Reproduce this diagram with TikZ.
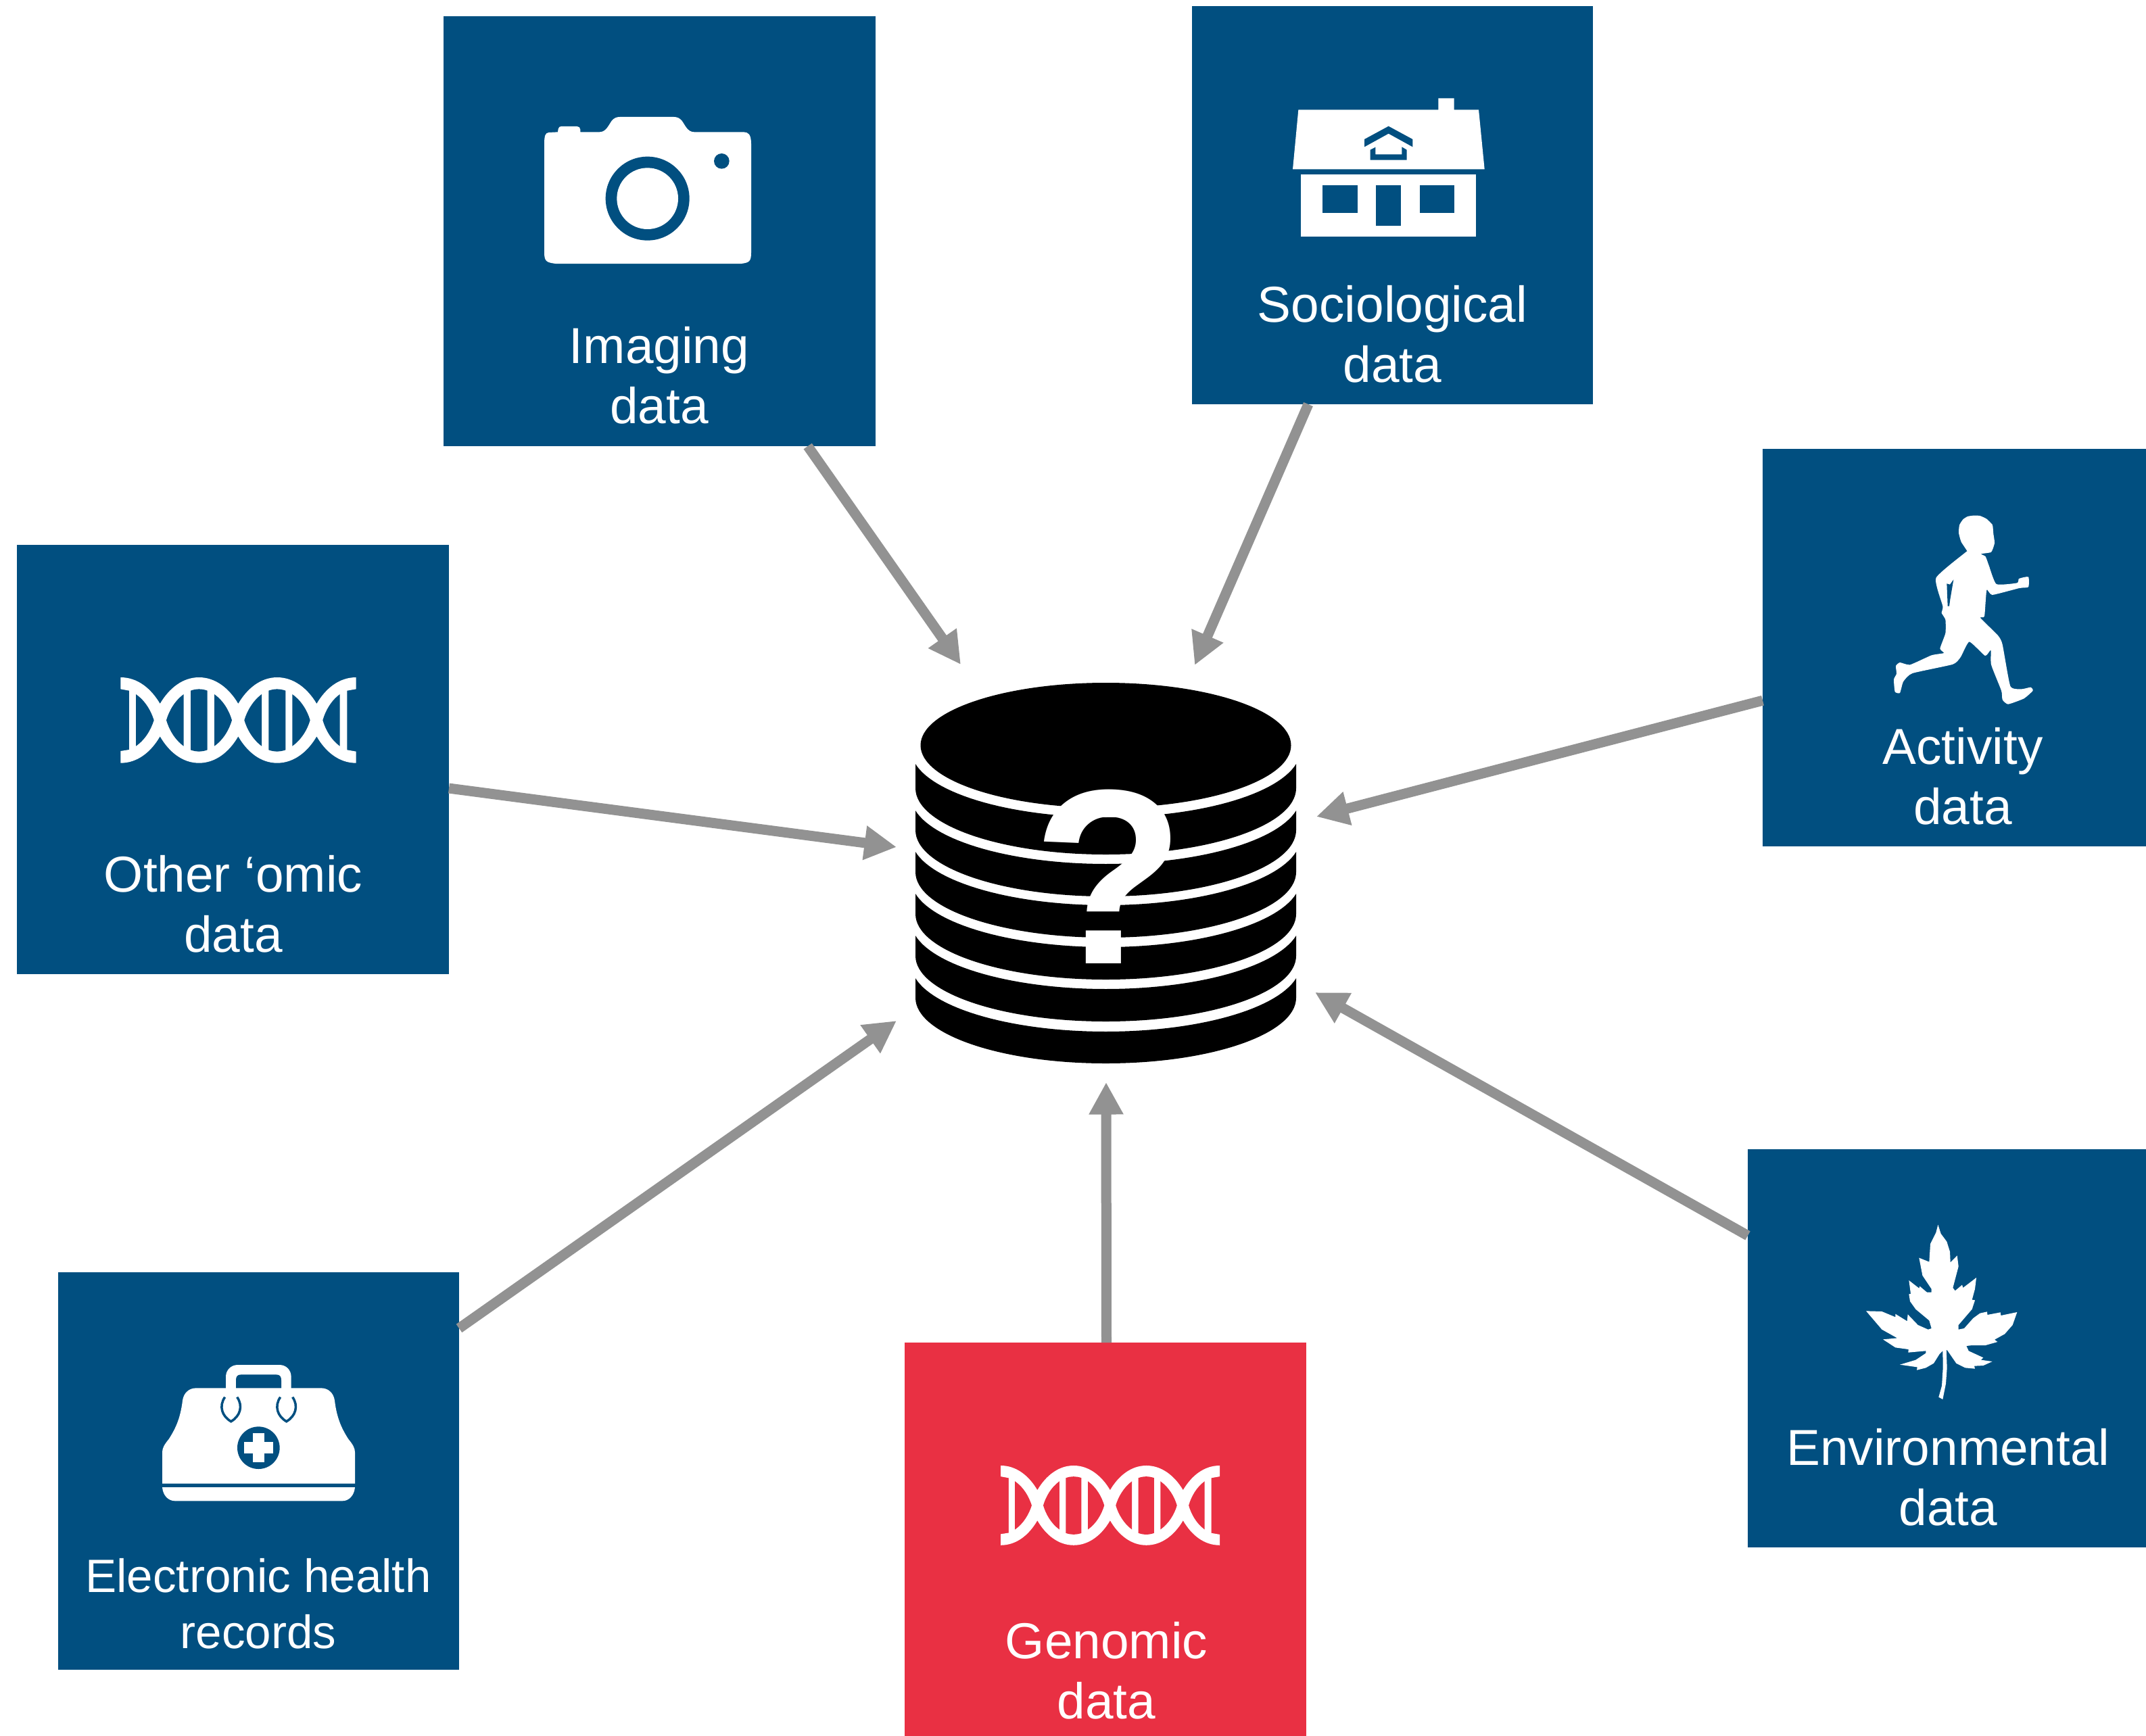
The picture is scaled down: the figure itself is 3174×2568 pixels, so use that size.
\documentclass[tikz,border=0pt]{standalone}
\usepackage{fontspec}
\setmainfont{Liberation Sans}
\usetikzlibrary{arrows.meta,calc}
\definecolor{bluebg}{HTML}{014F80}
\definecolor{redbg}{HTML}{E93043}
\definecolor{arrowgray}{HTML}{929292}
\tikzset{
  databox/.style={inner sep=0pt,outer sep=0pt,rectangle},
  lbl/.style={text=white,align=center,inner sep=0pt,outer sep=0pt,font=\fontsize{17.95pt}{21.4pt}\selectfont},
  feed/.style={draw=arrowgray,line width=3.6pt,-{Triangle[length=11.4pt,width=11.5pt]}},
  icon/.style={x=0.08pt,y=-0.08pt},
}
\newcommand{\pxbox}[6]{%
  \node[databox,fill=#6,minimum width={(#4-#2)*0.24pt},minimum height={(#5-#3)*0.24pt}] (#1) at ({(#2+#4)/2},{(#3+#5)/2}) {};}
% side bottom, top-curve centre, bottom-curve centre
\newcommand{\dbband}[3]{%
  \pgfmathsetmacro\yda{#1+0.5523*(#3-#1)}
  \fill[black] (1354,#1) .. controls (1354,\yda) and (1480,#3) .. (1635.5,#3)
     .. controls (1791,#3) and (1917,\yda) .. (1917,#1)
     -- plot[domain=12.2:167.8,samples=61] ({1635.5+288*cos(\x)},{#2-100+100*sin(\x)}) -- cycle;}
\newcommand{\dnaicon}[4]{%
  \begin{scope}[shift={(#1,#2)},icon,scale=#3]
  \fill[white] (55,66) .. controls (130,66) and (190,115) .. (230,183)
    .. controls (270,115) and (330,66) .. (403,66) .. controls (476,66) and (537,115) .. (577,183)
    .. controls (617,115) and (677,66) .. (750,66) .. controls (823,66) and (885,115) .. (925,183)
    .. controls (965,115) and (1025,66) .. (1100,66) -- (1100,118) -- (1060,125) -- (1060,388) -- (1100,395) -- (1100,446)
    .. controls (1025,446) and (965,397) .. (925,328) .. controls (885,397) and (823,446) .. (750,446)
    .. controls (677,446) and (617,397) .. (577,328) .. controls (537,397) and (476,446) .. (403,446)
    .. controls (330,446) and (270,397) .. (230,328) .. controls (190,397) and (130,446) .. (55,446)
    -- (55,393) -- (93,387) -- (93,125) -- (55,118) -- cycle;
  \fill[#4] (123,141) .. controls (165,170) and (190,215) .. (203,256) .. controls (190,297) and (165,342) .. (123,371) -- cycle;
  \fill[#4] (335,141) .. controls (295,170) and (270,215) .. (258,256) .. controls (270,297) and (295,342) .. (335,371) -- cycle;
  \fill[#4] (366,125) .. controls (390,116) and (416,116) .. (440,125) -- (440,388) .. controls (416,397) and (390,397) .. (366,388) -- cycle;
  \fill[#4] (471,141) .. controls (512,170) and (537,215) .. (549,256) .. controls (537,297) and (512,342) .. (471,371) -- cycle;
  \fill[#4] (681,141) .. controls (642,170) and (616,215) .. (604,256) .. controls (616,297) and (642,342) .. (681,371) -- cycle;
  \fill[#4] (712,125) .. controls (737,116) and (762,116) .. (787,125) -- (787,388) .. controls (762,397) and (737,397) .. (712,388) -- cycle;
  \fill[#4] (817,141) .. controls (858,170) and (884,215) .. (896,256) .. controls (884,297) and (858,342) .. (817,371) -- cycle;
  \fill[#4] (1028,141) .. controls (988,170) and (964,215) .. (952,256) .. controls (964,297) and (988,342) .. (1028,371) -- cycle;
  \end{scope}}
\begin{document}
\begin{tikzpicture}[x=0.24pt,y=-0.24pt]
\useasboundingbox (0,0) rectangle (3174,2568);
% boxes
\pxbox{imaging}{656}{24}{1295}{660}{bluebg}
\pxbox{socio}{1763}{9}{2356}{598}{bluebg}
\pxbox{activity}{2607}{664}{3174}{1252}{bluebg}
\pxbox{omic}{25}{806}{664}{1441}{bluebg}
\pxbox{ehr}{86}{1882}{679}{2470}{bluebg}
\pxbox{genomic}{1338}{1986}{1932}{2568}{redbg}
\pxbox{environ}{2585}{1700}{3174}{2289}{bluebg}
% labels
\node[lbl] (limaging) at (975,555) {Imaging\\data};
\node[lbl] (lsocio) at (2059.5,494) {Sociological\\data};
\node[lbl] (lactivity) at (2903,1148) {Activity\\data};
\node[lbl] (lomic) at (345,1337) {Other ‘omic\\data};
\node[lbl,font=\fontsize{16.6pt}{19.9pt}\selectfont] (lehr) at (382,2372) {Electronic health\\records};
\node[lbl] (lgenomic) at (1636.5,2471) {Genomic\\data};
\node[lbl] (lenviron) at (2881.5,2185) {Environmental\\data};
% database
\fill[black] (1635.5,1010) .. controls (1787,1010) and (1909.5,1051.4) .. (1909.5,1102.5)
  .. controls (1909.5,1153.6) and (1787,1195) .. (1635.5,1195)
  .. controls (1484,1195) and (1361.5,1153.6) .. (1361.5,1102.5)
  .. controls (1361.5,1051.4) and (1484,1010) .. (1635.5,1010) -- cycle;
\dbband{1166}{1209}{1264}
\dbband{1228}{1278}{1326}
\dbband{1290}{1339}{1387}
\dbband{1352}{1401}{1449}
\dbband{1414}{1463}{1511}
\dbband{1476}{1526}{1573}
\node[inner sep=0pt,outer sep=0pt,minimum size=135.1pt] (db) at (1635.5,1291.5) {};
\node[text=white,inner sep=0pt,font=\fontsize{88.5pt}{88.5pt}\selectfont\bfseries] (qmark) at (1640,1297) {?};
% connector ends
\coordinate (inA) at (1421,983);
\coordinate (inB) at (1767,984);
\coordinate (inC) at (1947,1208);
\coordinate (inD) at (1945,1468);
\coordinate (inE) at (1636,1601);
\coordinate (inF) at (1326,1510);
\coordinate (inG) at (1326,1253);
\draw[feed] ($(imaging.south west)!0.843!(imaging.south east)$) -- (inA);
\draw[feed] ($(socio.south west)!0.29!(socio.south east)$) -- (inB);
\draw[feed] ($(activity.north west)!0.633!(activity.south west)$) -- (inC);
\draw[feed] ($(environ.north west)!0.217!(environ.south west)$) -- (inD);
\draw[feed] ($(genomic.north west)!0.5025!(genomic.north east)$) -- (inE);
\draw[feed] ($(ehr.north east)!0.141!(ehr.south east)$) -- (inF);
\draw[feed] ($(omic.north east)!0.567!(omic.south east)$) -- (inG);
% DNA icons
\dnaicon{160}{980}{1}{bluebg}
\dnaicon{1463}{2147.5}{0.93}{redbg}
% camera
\begin{scope}[shift={(750,150)},icon]
\fill[white] (165,190) .. controls (165,150) and (170,140) .. (185,138) -- (225,136) -- (227,122) .. controls (229,114) and (234,111) .. (240,111) -- (310,111) .. controls (318,111) and (325,116) .. (325,125) -- (325,136) -- (410,136)
 .. controls (440,136) and (450,105) .. (465,85) .. controls (475,74) and (485,69) .. (500,69) -- (740,69) .. controls (755,69) and (765,74) .. (775,85) .. controls (790,105) and (800,136) .. (830,136) -- (1050,136) .. controls (1070,137) and (1083,145) .. (1083,190)
 -- (1083,670) .. controls (1083,710) and (1075,715) .. (1040,720) -- (215,720) .. controls (175,715) and (165,710) .. (165,670) -- cycle;
\fill[bluebg] (623,431) circle[radius=14.88pt];
\fill[white] (623,431) circle[radius=10.88pt];
\fill[bluebg] (952,265) circle[radius=2.72pt];
\end{scope}
% house
\begin{scope}[shift={(1880,120)},icon]
\fill[white] (121,127) -- (742,127) -- (742,76) -- (812,76) -- (812,127) -- (921,127) -- (947,391) -- (96,391) -- cycle;
\fill[white] (133,415) rectangle (910,690);
\fill[bluebg] (229,461) rectangle (383,584);
\fill[bluebg] (465,461) rectangle (577,643);
\fill[bluebg] (659,461) rectangle (813,584);
\fill[bluebg] (414,258) -- (521,200) -- (628,258) -- (628,292) -- (521,233) -- (414,292) -- cycle;
\fill[bluebg] (440,305) -- (463,293) -- (463,325) -- (580,325) -- (580,292) -- (602,305) -- (602,350) -- (440,350) -- cycle;
\end{scope}
% runner
\begin{scope}[shift={(2760,740)},icon]
\fill[white] plot[smooth cycle,tension=0.3] coordinates {(475,68) (505,69) (535,83) (560,108) (563,125) (565,150) (570,190) (555,230) (510,238) (530,250) (545,290) (578,372) (670,367) (678,348) (720,340) (720,385) (680,390) (560,420) (535,398) (525,515) (507,522) (585,600) (605,640) (640,825) (690,838) (730,830) (740,845) (700,880) (630,905) (605,885) (600,845) (555,730) (553,665) (528,690) (458,628) (420,695) (385,728) (205,768) (165,805) (150,855) (128,850) (123,795) (135,770) (132,735) (150,720) (195,730) (290,688) (345,678) (328,658) (352,590) (352,530) (335,500) (340,470) (310,345) (440,232) (448,225) (422,185) (411,145) (414,110) (430,85) (450,72)};
\fill[bluebg] (358,370) -- (372,374) -- (388,352) -- (373,440) -- (369,470) -- (362,470) -- cycle;
\end{scope}
% leaf
\begin{scope}[shift={(2720,1790)},icon]
\fill[white] (439,65) -- (452,105) -- (478,140) -- (492,185) -- (494,232) -- (524,202) -- (530,250) -- (505,345) -- (515,358) -- (546,332) -- (550,345) -- (609,300) -- (603,350) -- (590,398) -- (603,400) -- (590,440) -- (530,510) -- (530,530) -- (555,525) -- (595,480) -- (625,458) -- (657,451) -- (658,465) -- (716,454) -- (718,468) -- (790,453) -- (770,510) -- (735,550) -- (690,575) -- (703,585) -- (650,600) -- (590,600) -- (565,603) -- (575,625) -- (640,655) -- (630,665) -- (680,672) -- (640,690) -- (600,692) -- (603,704) -- (560,700) -- (520,680) -- (480,622) -- (476,622) -- (479,700) -- (474,770) -- (460,840) -- (442,830) -- (456,780) -- (461,700) -- (460,625) -- (445,640) -- (420,680) -- (385,700) -- (345,710) -- (347,697) -- (270,686) -- (340,665) -- (385,635) -- (385,625) -- (307,632) -- (308,618) -- (250,610) -- (195,574) -- (258,568) -- (190,530) -- (120,448) -- (190,450) -- (250,475) -- (250,461) -- (302,493) -- (305,463) -- (350,510) -- (395,530) -- (410,525) -- (400,490) -- (340,440) -- (315,405) -- (310,373) -- (318,372) -- (310,312) -- (355,347) -- (358,338) -- (390,365) -- (410,365) -- (410,350) -- (370,290) -- (355,212) -- (400,230) -- (405,150) -- (430,100) -- cycle;
\end{scope}
% medical bag
\begin{scope}[shift={(220,2000)},icon]
\fill[white] (342,165) -- (342,110) .. controls (342,80) and (365,57) .. (395,57) -- (580,57) .. controls (610,57) and (632,80) .. (632,110) -- (632,165) -- cycle;
\fill[bluebg] (387,165) -- (387,125) .. controls (387,110) and (392,100) .. (410,100) -- (565,100) .. controls (583,100) and (588,110) .. (588,125) -- (588,165) -- cycle;
\fill[white] (150,215) .. controls (155,180) and (180,160) .. (210,160) -- (765,160) .. controls (795,160) and (820,180) .. (825,215) .. controls (835,300) and (860,345) .. (885,385) .. controls (905,410) and (915,425) .. (915,445) -- (915,584) -- (60,584) -- (60,445) .. controls (60,425) and (70,410) .. (90,385) .. controls (115,345) and (140,300) .. (150,215) -- cycle;
\fill[white] (60,600) -- (915,600) .. controls (912,635) and (890,661) .. (858,661) -- (118,661) .. controls (85,661) and (63,635) .. (60,600) -- cycle;
\draw[bluebg,line width=0.85pt] (338,200) .. controls (310,240) and (325,285) .. (365,308) .. controls (405,285) and (420,240) .. (392,200);
\draw[bluebg,line width=0.85pt] (584,200) .. controls (556,240) and (571,285) .. (611,308) .. controls (651,285) and (666,240) .. (638,200);
\fill[white] (342,165) rectangle (387,225);
\fill[white] (588,165) rectangle (632,225);
\fill[bluebg] (487,425) circle[radius=7.52pt];
\fill[white] (463,360) rectangle (512,490);
\fill[white] (423,400) rectangle (552,450);
\end{scope}
\end{tikzpicture}
\end{document}
